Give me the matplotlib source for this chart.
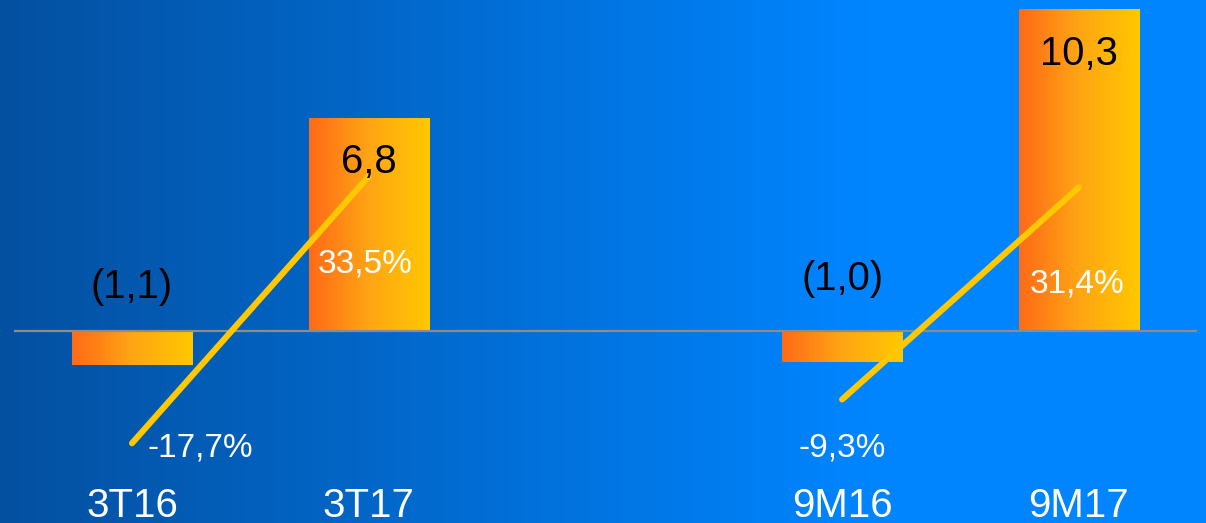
import numpy as np
import matplotlib
matplotlib.use("Agg")
import matplotlib.pyplot as plt
from matplotlib.colors import LinearSegmentedColormap

# data
categories = ["3T16", "3T17", "9M16", "9M17"]
positions = [0, 1, 3, 4]
values = [-1.1, 6.8, -1.0, 10.3]          # result, bars
margins = [-17.7, 33.5, -9.3, 31.4]       # margin %, lines
pairs = [(0, 1), (2, 3)]

plt.rcParams['font.family'] = ['Liberation Sans', 'DejaVu Sans']

W, H, DPI = 1206, 523, 100
fig = plt.figure(figsize=(W / DPI, H / DPI), dpi=DPI)

# background gradient, dark blue -> bright blue
bg = fig.add_axes([0, 0, 1, 1], zorder=-5)
bg_cmap = LinearSegmentedColormap.from_list(
    "bg", [(0.0, "#0450A0"), (0.72, "#0085FF"), (1.0, "#0085FF")])
bg.imshow(np.linspace(0, 1, 512)[None, :], aspect="auto", cmap=bg_cmap,
          extent=[0, 1, 0, 1])
bg.axis("off")

ax = fig.add_axes([0, 0, 1, 1])
ax.patch.set_alpha(0)
px_x = 236.7   # pixels per category unit
px_y = 31.2    # pixels per value unit
base = 330.5
xlim = (-132 / px_x, (W - 132) / px_x)
ylim = (-(H - base) / px_y, base / px_y)
ax.axis("off")

bar_cmap = LinearSegmentedColormap.from_list("bar", ["#FF6A18", "#FFA514", "#FFC800"])
bars = ax.bar(positions, values, width=0.507, color="none", edgecolor="none")
for b in bars:
    x0, y0, w, h = b.get_x(), b.get_y(), b.get_width(), b.get_height()
    ax.imshow(np.linspace(0, 1, 256)[None, :], cmap=bar_cmap, aspect="auto",
              extent=[x0, x0 + w, y0, y0 + h], zorder=2)
ax.set_xlim(*xlim)
ax.set_ylim(*ylim)

ax.hlines(0, -0.5, 4.5, color="#8C8C8C", lw=1.6, zorder=3)

# category labels
for p, c in zip(positions, categories):
    ax.text(p, 1 - 517 / H, c, transform=ax.get_xaxis_transform(),
            ha="center", va="baseline", fontsize=29, color="white")

# margin lines on secondary axis
ax2 = ax.twinx()
ax2.set_position([0, 0, 1, 1])
px_m = 5.21
zero_m = 351
ax2.set_ylim(-(H - zero_m) / px_m, zero_m / px_m)
ax2.axis("off")
for i, j in pairs:
    ax2.plot([positions[i], positions[j]], [margins[i], margins[j]],
             color="#FFC800", lw=4.4, solid_capstyle="round", zorder=4)

k = 72 / DPI   # pixel offsets -> points
pct_off = [(68, -13), (-4, -96.5), (0, -57.5), (-2, -104.6)]
for p, m, (dx, dy) in zip(positions, margins, pct_off):
    ax2.annotate(("%.1f%%" % m).replace(".", ","), (p, m),
                 xytext=(dx * k, dy * k), textcoords="offset points",
                 ha="center", va="baseline", fontsize=24, color="white",
                 zorder=6)

# value labels, drawn above the lines
val_off = [32.5, -54.5, 40.5, -56.0]
for p, v, off in zip(positions, values, val_off):
    txt = ("(%.1f)" % abs(v)) if v < 0 else "%.1f" % v
    anchor = v if v > 0 else 0
    ax2.annotate(txt.replace(".", ","), (p, anchor), xycoords=ax.transData,
                 xytext=(0, off * k), textcoords="offset points",
                 ha="center", va="baseline", fontsize=28.8, color="black",
                 zorder=6)

fig.savefig("out.png", dpi=DPI)
